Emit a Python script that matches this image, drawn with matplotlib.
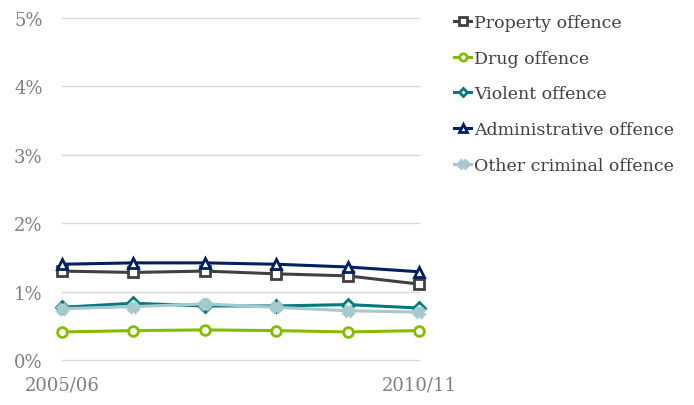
import matplotlib as mpl
mpl.use('Agg')
import matplotlib.pyplot as plt
from matplotlib.ticker import FuncFormatter

plt.rcParams['font.family'] = ['DejaVu Serif']

years = ['2005/06', '2006/07', '2007/08', '2008/09', '2009/10', '2010/11']
property_off = [1.30, 1.28, 1.30, 1.26, 1.23, 1.11]
drug_off = [0.41, 0.43, 0.44, 0.43, 0.41, 0.43]
violent_off = [0.77, 0.83, 0.79, 0.79, 0.81, 0.76]
admin_off = [1.40, 1.42, 1.42, 1.40, 1.36, 1.29]
other_off = [0.75, 0.78, 0.82, 0.77, 0.72, 0.70]

series = [
    ('Property offence', property_off, '#404040', 's'),
    ('Drug offence', drug_off, '#84BD00', 'o'),
    ('Violent offence', violent_off, '#00797F', 'D'),
    ('Administrative offence', admin_off, '#002060', '^'),
    ('Other criminal offence', other_off, '#A6C9CD', 'X'),
]

fig = plt.figure(figsize=(6.94, 4.06), dpi=100)
ax = fig.add_axes([62/694, 1-361/406, (419-62)/694, (361-19)/406])

x = list(range(len(years)))
for label, vals, col, mk in series:
    ms = 6 if mk == 'D' else 7
    ax.plot(x, vals, color=col, lw=2.2, marker=mk, ms=ms,
            mfc='white' if mk != 'X' else col, mec=col, mew=2, label=label,
            clip_on=False, zorder=3)

ax.set_xlim(0, 5)
ax.set_ylim(0, 5)
ax.set_yticks([0, 1, 2, 3, 4, 5])
ax.yaxis.set_major_formatter(FuncFormatter(lambda v, p: f'{v:.0f}%'))
ax.set_xticks([0, 5])
ax.set_xticklabels([years[0], years[-1]])
ax.grid(axis='y', color='#D9D9D9', lw=1)
for gl in ax.yaxis.get_gridlines():
    gl.set_clip_on(False)
ax.set_axisbelow(True)
for s in ax.spines.values():
    s.set_visible(False)
ax.tick_params(length=0, labelsize=13, colors='#7F7F7F', pad=14)
ax.tick_params(axis='x', pad=11)

fig.legend(loc='upper left', bbox_to_anchor=(447/694, 1-8/406), frameon=False,
           fontsize=12.5, labelcolor='#404040', handlelength=1.0, handletextpad=0.15,
           labelspacing=1.08, borderaxespad=0, markerscale=0.75)

fig.savefig('out.png', dpi=100)
